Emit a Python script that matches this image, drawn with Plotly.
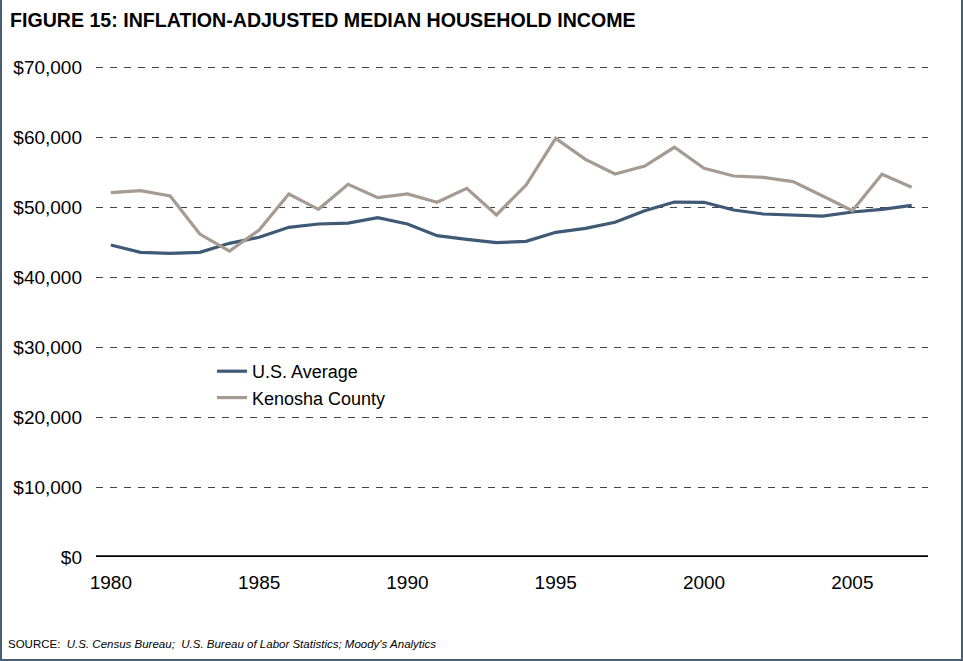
import plotly.graph_objects as go

years = list(range(1980, 2008))
us_average = [44570, 43530, 43380, 43530, 44810, 45670, 47100, 47570, 47710, 48470,
              47570, 45900, 45380, 44900, 45100, 46380, 46950, 47810, 49470, 50710,
              50670, 49570, 49000, 48900, 48710, 49290, 49670, 50240]
kenosha = [52040, 52330, 51570, 46140, 43710, 46710, 51860, 49670, 53240, 51330,
           51860, 50670, 52670, 48860, 53140, 59810, 56810, 54710, 55860, 58530,
           55530, 54430, 54240, 53620, 51570, 49470, 54670, 52810]
y_ticks = [0, 10000, 20000, 30000, 40000, 50000, 60000, 70000]
y_tick_labels = ["$0", "$10,000", "$20,000", "$30,000", "$40,000", "$50,000", "$60,000", "$70,000"]
x_ticks = [1980, 1985, 1990, 1995, 2000, 2005]

W, H = 963, 661
L, R, T, B = 96, 35, 61, 104
PW, PH = W - L - R, H - T - B
Y_TOP = 70000 * PH / 490


def px(x):
    return (x - L) / PW


def py(y):
    return (H - B - y) / PH


fig = go.Figure()
fig.add_trace(go.Scatter(x=years, y=us_average, mode="lines", name="U.S. Average",
                         line=dict(color="#3E5A75", width=3.2)))
fig.add_trace(go.Scatter(x=years, y=kenosha, mode="lines", name="Kenosha County",
                         line=dict(color="#A69B90", width=3.2)))

font_family = "Liberation Sans, Arial, sans-serif"

fig.update_layout(
    width=W, height=H,
    margin=dict(l=L, r=R, t=T, b=B),
    paper_bgcolor="white", plot_bgcolor="white",
    font=dict(family=font_family, color="black", size=18),
    showlegend=True,
    legend=dict(x=px(212), y=py(353), xanchor="left", yanchor="top",
                bgcolor="rgba(0,0,0,0)", font=dict(size=18, color="black"),
                itemwidth=30, tracegroupgap=0),
    xaxis=dict(range=[1979.5, 2007.55], tickvals=x_ticks, ticktext=[str(v) for v in x_ticks],
               showgrid=False, zeroline=False, showline=False, ticks="",
               ticklabelstandoff=12, tickfont=dict(size=19)),
    yaxis=dict(range=[0, Y_TOP], tickvals=y_ticks, ticktext=y_tick_labels,
               showgrid=True, gridcolor="#444444", gridwidth=1, griddash="7px,7px",
               zeroline=False, showline=False, ticks="", ticklabelstandoff=13,
               tickfont=dict(size=19)),
    annotations=[
        dict(text="<b>FIGURE 15: INFLATION-ADJUSTED MEDIAN HOUSEHOLD INCOME</b>",
             xref="paper", yref="paper", x=px(8), y=py(20), xanchor="left", yanchor="middle",
             showarrow=False, font=dict(size=19.6, color="black", family=font_family)),
        dict(text="SOURCE:  <i>U.S. Census Bureau;  U.S. Bureau of Labor Statistics; Moody's Analytics</i>",
             xref="paper", yref="paper", x=px(6), y=py(644), xanchor="left", yanchor="middle",
             showarrow=False, font=dict(size=11.5, color="black", family=font_family)),
    ],
    shapes=[
        dict(type="line", xref="paper", yref="y", x0=0, x1=1, y0=0, y1=0,
             line=dict(color="black", width=3.5)),
        dict(type="line", xref="paper", yref="paper", x0=px(1), x1=px(1), y0=py(0), y1=py(661),
             line=dict(color="#4A5E73", width=2)),
        dict(type="line", xref="paper", yref="paper", x0=px(962), x1=px(962), y0=py(0), y1=py(661),
             line=dict(color="#4A5E73", width=2)),
        dict(type="line", xref="paper", yref="paper", x0=px(0), x1=px(963), y0=py(660), y1=py(660),
             line=dict(color="#4A5E73", width=2)),
    ],
)

fig.write_html("out.html", config={"displayModeBar": False},
               post_script="document.body.style.margin='0';")
